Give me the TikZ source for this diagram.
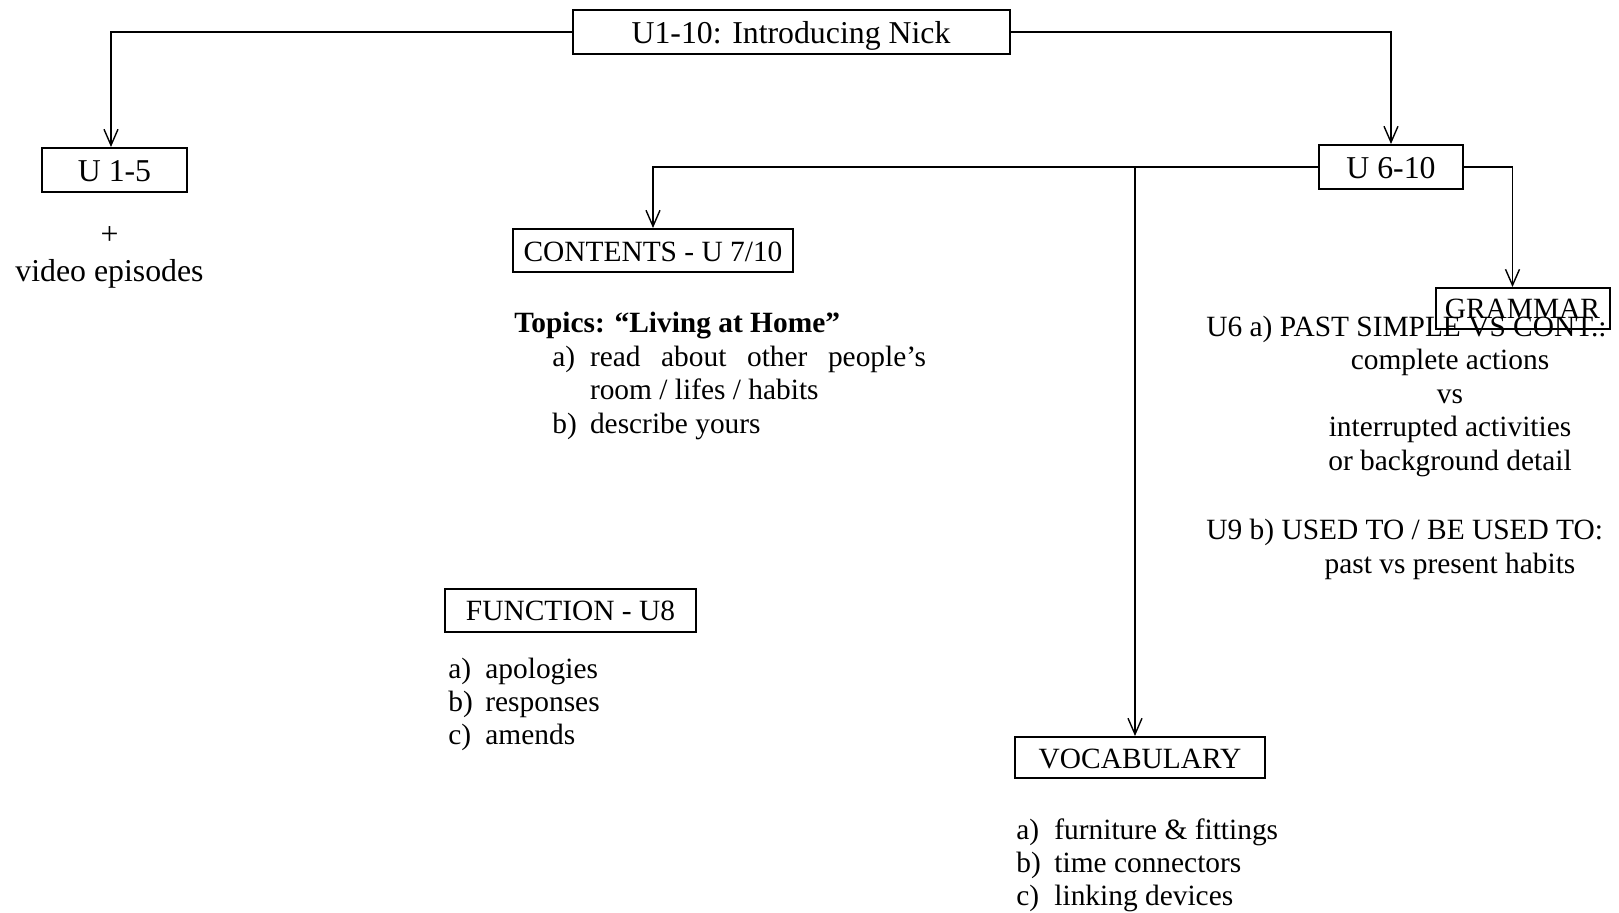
\documentclass[tikz,border=0pt]{standalone}
\usepackage{fontspec}
\setmainfont{Liberation Serif}
\usetikzlibrary{arrows.meta}
\newcommand\bigtxt{\fontsize{15.9}{16.7}\selectfont}
\newcommand\smalltxt{\fontsize{14.7}{16.7}\selectfont}
\tikzset{
  unitbox/.style={draw, line width=1pt, inner sep=0pt, minimum height=21.5pt,
    text height=11pt, text depth=0pt, font=\bigtxt},
  topicbox/.style={unitbox, font=\smalltxt},
  txt/.style={inner sep=0pt, anchor=base west, yshift=-1pt, font=\smalltxt},
  ctxt/.style={inner sep=0pt, anchor=base, yshift=-1pt, font=\smalltxt},
  arr/.style={line width=0.7pt, -{Straight Barb[length=8pt,width=7pt]}}
}
\begin{document}
\begin{tikzpicture}[x=0.5pt, y=-0.5pt]
\useasboundingbox (0,0) rectangle (1619,912);
% boxes
\node[unitbox, minimum width=218.5pt, minimum height=22pt] (title) at (791,32) {U1-10: Introducing Nick};
\node[unitbox, minimum width=72.5pt, minimum height=22pt, text height=11.7pt] (u15) at (114.5,170) {U 1-5};
\node[unitbox, minimum width=72pt, minimum height=22pt] (u610) at (1391,167) {U 6-10};
\node[topicbox, minimum width=140pt] (contents) at (653,250.5) {CONTENTS - U 7/10};
\node[topicbox, minimum width=125.5pt, text height=9.5pt] (function) at (570.5,610.5) {FUNCTION - U8};
\node[topicbox, minimum width=125pt, minimum height=20.5pt, text height=10.8pt] (vocab) at (1140,757.5) {VOCABULARY};
\node[topicbox, minimum width=87pt, minimum height=20.5pt, text height=9.5pt] (grammar) at (1522.5,308.5) {GRAMMAR};
% connectors
\draw[arr] (title.west) -| ([xshift=-1.75pt]u15.north);
\draw[arr] (title.east) -| (u610.north);
\draw[arr] (u610.west) -| (contents.north);
\draw[arr] (u610.east) -| ([xshift=-5pt]grammar.north);
\coordinate (vtop) at ([xshift=-2.5pt]vocab.north);
\draw[arr] (vtop |- u610.west) -- (vtop);
% U 1-5
\node[ctxt, font=\bigtxt, yshift=-1.8pt] (plus) at (109.5,239) {+};
\node[ctxt, font=\bigtxt, yshift=-1.8pt] (video) at (109.5,276) {video episodes};
% contents
\node[txt] (topics) at (514,330) {\bfseries Topics: “Living at Home”};
\node[txt] (ca) at (552,364.5) {a)};
\node[txt] (catxt) at (589.6,364.5) {\makebox[168pt][s]{read about other people’s}};
\node[txt] (catxt2) at (589.6,397.5) {room / lifes / habits};
\node[txt] (cb) at (552,431.6) {b)};
\node[txt] (cbtxt) at (589.6,431.6) {describe yours};
% function
\foreach \lab/\itm [count=\i] in {a/apologies, b/responses, c/amends}
  {\node[txt] (fl\i) at (448,676.5+33.2*\i-33.2) {\lab)};
   \node[txt] (ft\i) at (485,676.5+33.2*\i-33.2) {\itm};}
% vocabulary
\foreach \lab/\itm [count=\i] in {a/furniture \& fittings, b/time connectors, c/linking devices}
  {\node[txt] (vl\i) at (1016,837+33.2*\i-33.2) {\lab)};
   \node[txt] (vt\i) at (1054,837+33.2*\i-33.2) {\itm};}
% grammar
\node[txt] (g6) at (1206,334.5) {U6 a) PAST SIMPLE VS CONT.:};
\node[ctxt] (g6a) at (1450,367.8) {complete actions};
\node[ctxt] (g6b) at (1450,401.3) {vs};
\node[ctxt] (g6c) at (1450,434.8) {interrupted activities};
\node[ctxt] (g6d) at (1450,468.3) {or background detail};
\node[txt] (g9) at (1206,537) {U9 b) USED TO / BE USED TO:};
\node[ctxt] (g9a) at (1450,571.5) {past vs present habits};
\end{tikzpicture}
\end{document}
